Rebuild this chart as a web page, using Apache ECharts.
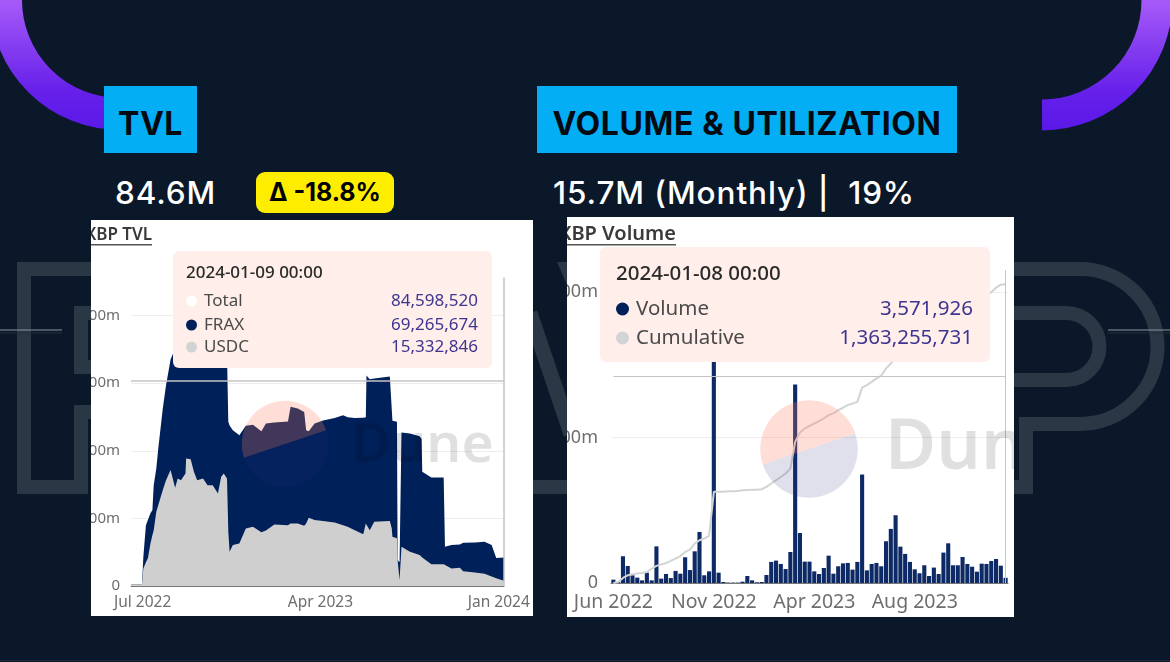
<!DOCTYPE html>
<html>
<head>
<meta charset="utf-8">
<title>FRAXBP TVL / Volume</title>
<script src="https://cdn.jsdelivr.net/npm/echarts@6/dist/echarts.min.js"></script>
<style>
    html, body { margin: 0; padding: 0; background: #0a1829; }
    #page { position: relative; width: 1170px; height: 662px; overflow: hidden; background: #0a1829; font-family: Inter, "Noto Sans", sans-serif; }
    #bg { position: absolute; left: 0; top: 0; }
    .box { position: absolute; background: #03aef4; color: #050a12; font-weight: 700; font-size: 32px; line-height: 76px; text-align: center; top: 86px; height: 67px; white-space: nowrap; letter-spacing: 0.6px; }
    .stat { position: absolute; top: 172px; height: 41px; line-height: 41px; color: #fff; font-size: 31.5px; font-weight: 500; letter-spacing: 0.9px; white-space: nowrap; }
    #delta { position: absolute; left: 256px; top: 172px; width: 138px; height: 41px; line-height: 41px; background: #ffed00; border-radius: 9px; color: #000; font-size: 25px; font-weight: 700; text-align: center; white-space: nowrap; }
    .panel { position: absolute; background: #fff; overflow: hidden; }
    #tvlChart { left: 91px; top: 220px; width: 442px; height: 396px; }
    #volChart { left: 567px; top: 217px; width: 447px; height: 400px; }
</style>
</head>
<body>
<div id="page">
    <svg id="bg" width="1170" height="662" fill="none">
        <defs>
            <linearGradient id="arc" gradientUnits="userSpaceOnUse" x1="0" y1="0" x2="0" y2="130">
                <stop offset="0" stop-color="#a65bf8"></stop>
                <stop offset="0.7" stop-color="#6620ea"></stop>
                <stop offset="1" stop-color="#5a18e8"></stop>
            </linearGradient>
        </defs>
        <!-- purple corner arcs -->
        <path d="M 6 0 A 114 114 0 0 0 120 114" stroke="url(#arc)" stroke-width="32"></path>
        <path d="M 1157 0 A 115 115 0 0 1 1042 115" stroke="url(#arc)" stroke-width="31"></path>
        <!-- ghost outline lettering behind the panels -->
        <g stroke="#2a3845" stroke-width="14">
            <path d="M 100 269 H 24 V 487 H 81 V 412 H 100"></path>
            <path d="M 100 313 H 81 V 367 H 100"></path>
            <path d="M 1000 269 H 1080 A 77.5 77.5 0 0 1 1080 424 H 1026 V 487 H 1000"></path>
            <path d="M 1000 313 H 1066 A 33.5 33.5 0 0 1 1066 380 H 1000"></path>
            <path d="M 530 487 H 580"></path>
            <path d="M 530 313 L 571 434" stroke-width="15"></path>
        </g>
        <path d="M 557 262 H 570 V 292 Z" fill="#2a3845"></path>
        <!-- thin rules -->
        <path d="M 0 330 H 62 M 1108 330 H 1170" stroke="#8e939b" stroke-width="1"></path>
        <path d="M 0 333 H 62 M 1108 333 H 1170" stroke="#222f3f" stroke-width="1"></path>
        <path d="M 0 660.5 H 1170" stroke="#1f2c3c" stroke-width="1"></path>
    </svg>

    <div class="box" style="left:104px;width:93px;">TVL</div>
    <div class="box" style="left:537px;width:420px;">VOLUME &amp; UTILIZATION</div>
    <div class="stat" style="left:115px;">84.6M</div>
    <div id="delta">Δ -18.8%</div>
    <div class="stat" style="left:553px;">15.7M (Monthly) | &nbsp;19%</div>

    <div id="tvlChart" class="panel"></div>
    <div id="volChart" class="panel"></div>
</div>

<script>
    // ---- TVL (millions) ----
    var tvlDates = ['2022-06-13','2022-06-30','2022-07-02','2022-07-06','2022-07-09','2022-07-13','2022-07-16','2022-07-18','2022-07-22','2022-07-25',
        '2022-08-01','2022-08-06','2022-08-13','2022-08-20','2022-08-24','2022-08-29','2022-09-05','2022-09-06','2022-09-13','2022-09-18',
        '2022-09-23','2022-10-02','2022-10-09','2022-10-17','2022-10-25','2022-10-30','2022-11-03','2022-11-08','2022-11-10','2022-11-12',
        '2022-11-17','2022-11-27','2022-12-07','2022-12-18','2022-12-31','2023-01-07','2023-01-20','2023-02-10','2023-02-14','2023-02-25',
        '2023-03-07','2023-03-10','2023-03-14','2023-03-23','2023-04-05','2023-04-23','2023-05-06','2023-05-13','2023-05-24','2023-06-06',
        '2023-06-10','2023-06-11','2023-06-16','2023-06-23','2023-07-17','2023-07-20','2023-07-21','2023-07-28','2023-07-29','2023-07-31',
        '2023-08-01','2023-08-02','2023-08-04','2023-08-17','2023-09-01','2023-09-04','2023-09-05','2023-09-19','2023-10-08','2023-10-10',
        '2023-10-20','2023-11-02','2023-11-07','2023-11-25','2023-12-10','2023-12-21','2023-12-28','2024-01-09'];
    var usdcValues = [5,5,52,70,82,126,151,165,220,239,
        284,313,343,291,318,313,333,377,375,338,
        313,318,298,298,274,323,333,318,161,101,
        121,126,170,175,159,164,182,180,185,185,
        178,185,202,195,192,188,180,175,165,153,
        185,190,165,190,192,170,146,141,77,74,
        18,18,116,101,92,87,84,64,64,64,
        52,54,44,40,36,28,23,15.3];
    var fraxValues = [0,0,34,110,113,89,74,133,128,167,
        241,281,327,412,385,390,375,330,327,360,
        385,374,394,394,413,364,354,364,325,374,
        340,320,304,302,299,317,302,307,345,340,
        337,276,256,286,298,309,325,324,332,345,
        314,433,447,424,428,447,343,345,0,0,
        52,54,338,350,351,348,254,257,257,52,
        69,69,84,89,95,93,60,69.3];
    var tvlTickDates = ['2022-07-01', '2023-04-01', '2024-01-01'];
    var tvlTooltipTitle = '2024-01-09 00:00';
    var tvlTooltipRows = [['Total', '84,598,520', '#ffffff'], ['FRAX', '69,265,674', '#00205a'], ['USDC', '15,332,846', '#d2d4d4']];

    // ---- Volume (millions), weekly from 2022-06-13 ----
    var volumeValues = [2.3,0.7,18.4,11.7,5.3,3.7,1.8,7.1,1.8,25.2,
        3,6.2,3.4,8.3,6.4,17.7,8.9,21.8,35.1,5.3,
        8,213,7.1,0.7,0.3,0.3,0.3,0.9,4.8,1.8,
        0.5,0.7,5.5,14.5,15.4,13.1,9.6,21.3,136.5,34.4,
        14.7,14.7,8,6.2,10.3,18.8,6.4,11.5,13.5,13.8,
        9.2,14.5,74.6,8.7,13.1,13.8,11.5,28.7,37.2,46.6,
        25,20,14.5,9.4,6.7,12.2,4.8,10.6,6.2,20.9,
        27.3,12.2,12.2,17.9,13.1,11.2,7.8,13.3,13.1,15.1,
        16.5,11.9,3.57];
    var cumulativeValues = [0,5,23,35,40,43,46,50,65,78,
        85,91,101,111,123,142,152,180,195,203,
        215,416,417,417,419,419,420,423,425,426,
        426,428,439,454,469,484,500,522,644,687,
        705,717,728,739,751,766,774,789,800,812,
        819,827,892,903,918,934,946,979,1002,1025,
        1048,1071,1086,1101,1116,1129,1144,1154,1170,1192,
        1215,1226,1238,1253,1266,1281,1296,1307,1317,1327,
        1348,1362,1363];
    var volTooltipTitle = '2024-01-08 00:00';
    var volTooltipRows = [['Volume', '3,571,926', '#00205a'], ['Cumulative', '1,363,255,731', '#d2d4d4']];

    var months = ['Jan','Feb','Mar','Apr','May','Jun','Jul','Aug','Sep','Oct','Nov','Dec'];
    var fontName = '"Noto Sans", sans-serif';
    var navy = '#00205a';
    var tickColor = '#6e6e6e';

    function toTime(d) {
        return +new Date(d + 'T00:00:00');
    }

    function monthLabel(value) {
        var d = new Date(value);
        return months[d.getMonth()] + ' ' + d.getFullYear();
    }

    function millions(value) {
        return value === 0 ? '0' : value + 'm';
    }

    // weekly category labels for the bars
    var volDates = [];
    for (var i = 0; i < volumeValues.length; i++) {
        var wk = new Date(2022, 5, 13 + i * 7);
        volDates.push(wk.getFullYear() + '-' + (wk.getMonth() + 1) + '-' + wk.getDate());
    }

    function titleGraphics(text, right, baseline, size) {
        return [{
            type: 'text', z: 50, silent: true,
            style: { x: right, y: baseline, text: text, textAlign: 'right', textVerticalAlign: 'bottom', fill: '#3a3a3a', font: '600 ' + size + 'px ' + fontName }
        }, {
            type: 'rect', z: 50, silent: true,
            shape: { x: 0, y: baseline, width: right, height: 1.5 },
            style: { fill: '#555' }
        }];
    }

    // Dune watermark: split disc plus the word
    function logoGraphics(cx, cy, r, textX, textY, size) {
        var tilt = 18.5 * Math.PI / 180;
        return [{
            type: 'sector', z: 60, silent: true,
            shape: { cx: cx, cy: cy, r: r, r0: 0, startAngle: Math.PI - tilt, endAngle: 2 * Math.PI - tilt, clockwise: true },
            style: { fill: 'rgba(255,125,95,0.25)' }
        }, {
            type: 'sector', z: 60, silent: true,
            shape: { cx: cx, cy: cy, r: r, r0: 0, startAngle: -tilt, endAngle: Math.PI - tilt, clockwise: true },
            style: { fill: 'rgba(40,50,120,0.15)' }
        }, {
            type: 'text', z: 60, silent: true,
            style: { x: textX, y: textY, text: 'Dune', textVerticalAlign: 'middle', fill: 'rgba(0,0,0,0.12)', font: '600 ' + size + 'px ' + fontName }
        }];
    }

    function tooltipGraphics(box, title, rows, o) {
        var items = [{
            type: 'rect', z: 80, silent: true,
            shape: { x: box[0], y: box[1], width: box[2], height: box[3], r: 6 },
            style: { fill: '#ffeeea' }
        }, {
            type: 'text', z: 81, silent: true,
            style: { x: o.left, y: o.titleY, text: title, textVerticalAlign: 'middle', fill: '#2a2a2a', font: '500 ' + o.size + 'px ' + fontName }
        }];
        rows.forEach(function (row, idx) {
            var y = o.rowY[idx];
            items.push({
                type: 'circle', z: 81, silent: true,
                shape: { cx: o.left + o.dot, cy: y, r: o.dot },
                style: { fill: row[2] }
            });
            items.push({
                type: 'text', z: 81, silent: true,
                style: { x: o.left + o.dot * 2 + 7, y: y, text: row[0], textVerticalAlign: 'middle', fill: '#4a4a4a', font: o.size + 'px ' + fontName }
            });
            items.push({
                type: 'text', z: 81, silent: true,
                style: { x: o.right, y: y, text: row[1], textAlign: 'right', textVerticalAlign: 'middle', fill: '#3d3590', font: o.size + 'px ' + fontName }
            });
        });
        return items;
    }

    // ---- left chart ----
    var tvlChart = echarts.init(document.getElementById('tvlChart'));
    var firstTvlTime = toTime(tvlDates[0]);
    var lastTvlTime = toTime(tvlDates[tvlDates.length - 1]);
    tvlChart.setOption({
        animation: false,
        // labels run off the panel edge on purpose
        grid: { left: 40, right: 29, top: 28, bottom: 30, outerBoundsMode: 'none' },
        xAxis: {
            // timestamps on a value axis, the labels are placed on the month starts
            type: 'value',
            min: firstTvlTime,
            max: lastTvlTime,
            axisLine: { onZero: false, lineStyle: { color: '#777', width: 1 } },
            axisTick: { show: false },
            splitLine: { show: false },
            axisLabel: {
                customValues: tvlTickDates.map(toTime),
                formatter: monthLabel,
                color: tickColor, fontFamily: fontName, fontSize: 15.5, margin: 9
            }
        },
        yAxis: {
            type: 'value', min: 0, max: 1000, interval: 200,
            axisLine: { show: false },
            axisTick: { show: false },
            splitLine: { showMaxLine: false, lineStyle: { color: '#eeeeee' } },
            axisLabel: { formatter: millions, color: tickColor, fontFamily: fontName, fontSize: 15, margin: 11, showMaxLabel: false, padding: [0, 0, 5, 0] }
        },
        series: [{
            // crosshair lines sit behind the areas
            name: 'crosshair', type: 'line', z: 1, data: [], silent: true,
            markLine: {
                silent: true, symbol: 'none', label: { show: false }, animation: false,
                lineStyle: { color: '#c4c4c4', type: 'solid', width: 1.5 },
                data: [
                    [{ coord: [firstTvlTime, 606] }, { coord: [lastTvlTime, 606] }],
                    [{ coord: [lastTvlTime, 0] }, { coord: [lastTvlTime, 913] }]
                ]
            }
        }, {
            // FRAX sits on USDC: the navy area is their sum, USDC is painted over it
            name: 'FRAX', type: 'line', z: 2, symbol: 'none',
            lineStyle: { width: 0 }, areaStyle: { color: navy, opacity: 1 },
            data: tvlDates.map(function (d, k) { return [toTime(d), usdcValues[k] + fraxValues[k]]; })
        }, {
            name: 'USDC', type: 'line', z: 3, symbol: 'none',
            lineStyle: { width: 0 }, areaStyle: { color: '#cfcfcf', opacity: 1 },
            data: tvlDates.map(function (d, k) { return [toTime(d), usdcValues[k]]; })
        }],
        graphic: {
            elements: titleGraphics('FRAXBP TVL', 61, 24, 17)
                .concat(logoGraphics(194, 224, 43.3, 260, 226, 55))
                .concat(tooltipGraphics([82, 31, 319, 117], tvlTooltipTitle, tvlTooltipRows, {
                    left: 95, right: 387, titleY: 53, rowY: [81, 105, 127], size: 17, dot: 5.5
                }))
        }
    });

    // ---- right chart ----
    var volChart = echarts.init(document.getElementById('volChart'));
    volChart.setOption({
        animation: false,
        grid: { left: 44, right: 6, top: 17, bottom: 34, outerBoundsMode: 'none' },
        xAxis: {
            type: 'category',
            data: volDates,
            axisLine: { lineStyle: { color: '#777', width: 1 } },
            axisTick: { show: false },
            axisLabel: { interval: 20, formatter: function (v) { var p = v.split('-'); return months[p[1] - 1] + ' ' + p[0]; }, color: tickColor, fontFamily: fontName, fontSize: 19.5, margin: 9 }
        },
        yAxis: [{
            type: 'value', min: 0, max: 240, interval: 100,
            axisLine: { show: false },
            axisTick: { show: false },
            splitLine: { showMaxLine: false, lineStyle: { color: '#eeeeee' } },
            axisLabel: { formatter: millions, color: tickColor, fontFamily: fontName, fontSize: 18, margin: 13, showMaxLabel: false, padding: [0, 0, 6, 0] }
        }, {
            type: 'value', min: 0, max: 1593, show: false, splitLine: { show: false }
        }],
        series: [{
            name: 'Volume', type: 'bar', z: 2, barCategoryGap: '14%',
            itemStyle: { color: '#0d2a66' },
            data: volumeValues,
            markLine: {
                silent: true, symbol: 'none', label: { show: false }, animation: false,
                lineStyle: { color: '#c4c4c4', type: 'solid', width: 1 },
                data: [
                    [{ coord: [volDates[0], 142] }, { coord: [volDates[82], 142] }],
                    [{ coord: [volDates[82], 0] }, { coord: [volDates[82], 215] }]
                ]
            }
        }, {
            name: 'Cumulative', type: 'line', yAxisIndex: 1, z: 3, symbol: 'none',
            lineStyle: { color: '#d2d4d4', width: 2 },
            data: cumulativeValues
        }],
        graphic: {
            elements: titleGraphics('FRAXBP Volume', 109, 27, 20)
                .concat(logoGraphics(242, 232, 48.7, 318, 232, 70))
                .concat(tooltipGraphics([33, 30, 390, 115], volTooltipTitle, volTooltipRows, {
                    left: 49, right: 406, titleY: 57, rowY: [92, 121], size: 20.5, dot: 6.5
                }))
        }
    });
</script>
</body>
</html>
